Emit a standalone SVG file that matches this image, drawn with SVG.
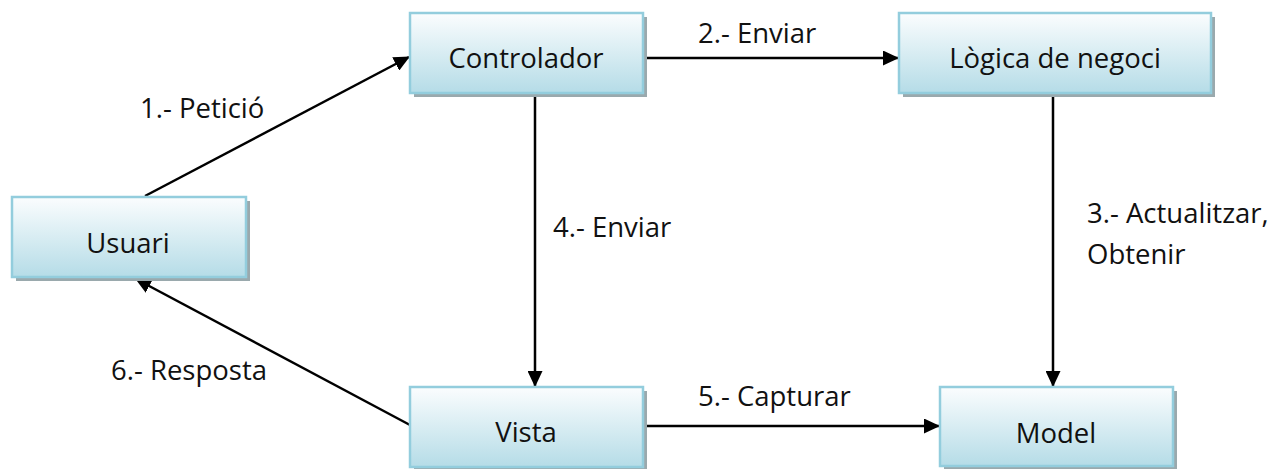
<svg xmlns="http://www.w3.org/2000/svg" width="1287" height="469" viewBox="0 0 1287 469">
<style>
text{font-family:"Open Sans","Noto Sans","Liberation Sans",sans-serif;font-size:27.5px;fill:#111}
.box{fill:url(#g);stroke:#93cddd;stroke-width:2.5}
.sh{fill:#9aa9ad}
.lbl{text-anchor:middle}
.c{stroke:#000;stroke-width:2.5;fill:none;marker-end:url(#a)}
</style>
<defs>
<linearGradient id="g" x1="0" y1="0" x2="0" y2="1">
<stop offset="0" stop-color="#fbfdfe"/>
<stop offset="1" stop-color="#b5dce7"/>
</linearGradient>
<marker id="a" markerUnits="userSpaceOnUse" markerWidth="16" markerHeight="15" refX="15" refY="7.5" orient="auto">
<path d="M0,0 L16,7.5 L0,15 z" fill="#000"/>
</marker>
</defs>
<g id="connectors">
<line class="c" x1="145" y1="196" x2="409" y2="57"/>
<line class="c" x1="643" y1="58" x2="898" y2="58"/>
<line class="c" x1="535" y1="93" x2="535" y2="386"/>
<line class="c" x1="1053" y1="93" x2="1053" y2="386"/>
<line class="c" x1="643" y1="426" x2="939" y2="426"/>
<line class="c" x1="410" y1="425" x2="136" y2="279"/>
<text x="140" y="118">1.- Petició</text>
<text x="698" y="43">2.- Enviar</text>
<text x="1087" y="223">3.- Actualitzar,</text>
<text x="1087" y="264">Obtenir</text>
<text x="553" y="237">4.- Enviar</text>
<text x="698" y="406">5.- Capturar</text>
<text x="267" y="380" text-anchor="end">6.- Resposta</text>
</g>
<g id="usuari">
<rect class="sh" x="16" y="201" width="234" height="80"/>
<rect class="box" x="12" y="197" width="234" height="80"/>
<text class="lbl" x="128" y="253">Usuari</text>
</g>
<g id="controlador">
<rect class="sh" x="414" y="17" width="233" height="80"/>
<rect class="box" x="410" y="13" width="233" height="80"/>
<text class="lbl" x="526" y="68">Controlador</text>
</g>
<g id="logica">
<rect class="sh" x="903" y="17" width="312" height="80"/>
<rect class="box" x="899" y="13" width="312" height="80"/>
<text class="lbl" x="1055" y="68">Lògica de negoci</text>
</g>
<g id="vista">
<rect class="sh" x="414" y="391" width="233" height="80"/>
<rect class="box" x="410" y="387" width="233" height="80"/>
<text class="lbl" x="526" y="442">Vista</text>
</g>
<g id="model">
<rect class="sh" x="944" y="391" width="233" height="80"/>
<rect class="box" x="940" y="387" width="233" height="79"/>
<text class="lbl" x="1056" y="443">Model</text>
</g>
</svg>
